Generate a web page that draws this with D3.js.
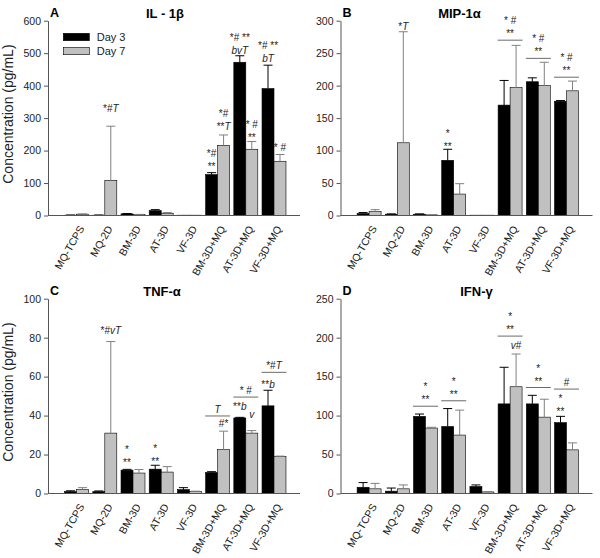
<!DOCTYPE html>
<html>
<head>
<meta charset="utf-8">
<script src="https://cdn.jsdelivr.net/npm/d3@7"></script>
<style>
body { margin: 0; background: #fff; }
svg { font-family: "Liberation Sans", Arial, sans-serif; }
</style>
</head>
<body>
<script>
// categories + series
const groups = ["MQ-TCPS", "MQ-2D", "BM-3D", "AT-3D", "VF-3D", "BM-3D+MQ", "AT-3D+MQ", "VF-3D+MQ"];
const days = ["Day 3", "Day 7"];

// IL-1b (pg/mL), mean and upper error
const il1bDay3 = [1, 1, 5, 15, 1, 126, 472, 391];
const il1bDay3Err = [0.5, 0.5, 1, 3, 0, 6, 20, 72];
const il1bDay7 = [4, 108, 3, 7, 1, 216, 204, 167];
const il1bDay7Err = [1, 167, 0.5, 2, 0, 32, 24, 21];

// MIP-1a
const mipDay3 = [3, 2, 2, 85, 0.5, 170, 206, 176];
const mipDay3Err = [1.5, 0.5, 0.5, 17, 0, 38, 6, 1];
const mipDay7 = [6, 112, 1, 33, 0.5, 197, 200, 192];
const mipDay7Err = [3, 171, 0, 16, 0, 65, 36, 15];

// TNF-a
const tnfDay3 = [1, 1, 12, 12.5, 2, 10.8, 38.8, 45];
const tnfDay3Err = [0.4, 0.3, 0.4, 2, 1, 0.4, 0.3, 8];
const tnfDay7 = [2, 31, 10.5, 11, 1, 22.5, 31, 19];
const tnfDay7Err = [1, 47, 1.8, 2.8, 0.2, 9.5, 1.3, 0.2];

// IFN-g
const ifnDay3 = [8, 3, 99, 86, 9, 115, 115, 91];
const ifnDay3Err = [6, 4, 3, 23, 2, 47, 11, 8];
const ifnDay7 = [6, 6, 84, 75, 2, 137, 98, 56];
const ifnDay7Err = [7, 5, 1, 32, 0.5, 42, 23, 9];

// y tick labels
const il1bTicks = [0, 100, 200, 300, 400, 500, 600];
const mipTicks = [0, 50, 100, 150, 200, 250, 300];
const tnfTicks = [0, 20, 40, 60, 80, 100];
const ifnTicks = [0, 50, 100, 150, 200, 250];

// significance marks: g = group, at = bar (0/1) or "pair" (with line), y in data units
const il1bNotes = [
  {g: 1, at: 1, lines: ["*#T"], y: 318},
  {g: 5, at: 0, lines: ["*#", "**"], y: 140},
  {g: 5, at: 1, lines: ["*#", "**T"], y: 263},
  {g: 6, at: 0, lines: ["*# **", "bvT"], y: 497},
  {g: 6, at: 1, lines: ["* #", "**"], y: 230},
  {g: 7, at: 0, lines: ["*# **", "bT"], y: 473},
  {g: 7, at: 1, lines: ["* #"], y: 199}
];
const mipNotes = [
  {g: 1, at: 1, lines: ["*T"], y: 286},
  {g: 3, at: 0, lines: ["*", "**"], y: 101},
  {g: 5, at: "pair", lines: ["* #", "**"], y: 270},
  {g: 6, at: "pair", lines: ["* #", "**"], y: 242},
  {g: 7, at: "pair", lines: ["* #", "**"], y: 213}
];
const tnfNotes = [
  {g: 1, at: 1, lines: ["*#vT"], y: 82},
  {g: 2, at: 0, lines: ["*", "**"], y: 14},
  {g: 3, at: 0, lines: ["*", "**"], y: 14.5},
  {g: 5, at: "pair", lines: ["T"], y: 39.8},
  {g: 5, at: 1, lines: ["#*"], y: 34},
  {g: 6, at: "pair", lines: ["* #"], y: 49.5},
  {g: 6, at: 0, lines: ["**b"], y: 43},
  {g: 6, at: 1, lines: ["v"], y: 39},
  {g: 7, at: "pair", lines: ["*#T"], y: 62.2},
  {g: 7, at: 0, lines: ["**b"], y: 54}
];
const ifnNotes = [
  {g: 2, at: "pair", lines: ["*", "**"], y: 112},
  {g: 3, at: "pair", lines: ["*", "**"], y: 119},
  {g: 5, at: "pair", lines: ["*", "**"], y: 202},
  {g: 5, at: 1, lines: ["v#"], y: 186},
  {g: 6, at: "pair", lines: ["*", "**"], y: 136},
  {g: 7, at: "pair", lines: ["#"], y: 134},
  {g: 7, at: 0, lines: ["*", "**"], y: 101}
];

const panels = [
  {letter: "A", title: "IL - 1β", x0: 48, y0: 20.7, titleDx: 117, max: 600, ticks: il1bTicks,
   vals: [il1bDay3, il1bDay7], errs: [il1bDay3Err, il1bDay7Err], notes: il1bNotes, ylab: true, legend: true},
  {letter: "B", title: "MIP-1α", x0: 340.5, y0: 20.7, titleDx: 119, max: 300, ticks: mipTicks,
   vals: [mipDay3, mipDay7], errs: [mipDay3Err, mipDay7Err], notes: mipNotes},
  {letter: "C", title: "TNF-α", x0: 48, y0: 298.7, titleDx: 114, max: 100, ticks: tnfTicks,
   vals: [tnfDay3, tnfDay7], errs: [tnfDay3Err, tnfDay7Err], notes: tnfNotes, ylab: true},
  {letter: "D", title: "IFN-γ", x0: 340.5, y0: 298.7, titleDx: 136, max: 250, ticks: ifnTicks,
   vals: [ifnDay3, ifnDay7], errs: [ifnDay3Err, ifnDay7Err], notes: ifnNotes}
];

const width = 600, height = 558;
const plotH = 194.8, plotW = 252, step = 28.2;
const fills = ["#000000", "#c0c0c0"];
const errColor = ["#000000", "#808080"];
const axisColor = "#555";

const svg = d3.select("body").append("svg")
  .attr("width", width).attr("height", height)
  .attr("viewBox", [0, 0, width, height]);

// letters get italic, symbols stay upright
function addMark(sel, str) {
  for (const ch of str) {
    sel.append("tspan")
      .style("font-style", /[A-Za-z]/.test(ch) ? "italic" : "normal")
      .text(ch);
  }
}

panels.forEach(p => {
  const g = svg.append("g");
  const y = d3.scaleLinear().domain([0, p.max]).range([p.y0 + plotH, p.y0]);
  const x = d3.scaleBand().domain(groups)
    .range([p.x0 + 14.5, p.x0 + 14.5 + groups.length * step])
    .paddingInner(0.15).paddingOuter(0.075);
  const xs = d3.scaleBand().domain([0, 1]).range([0, x.bandwidth()]);
  const base = y(0);

  // bars + error bars
  [0, 1].forEach(k => {
    const rows = groups.map((name, i) => ({name, v: p.vals[k][i], e: p.errs[k][i]}));
    g.append("g").selectAll("rect").data(rows).join("rect")
      .attr("x", d => x(d.name) + xs(k))
      .attr("y", d => y(d.v))
      .attr("width", xs.bandwidth())
      .attr("height", d => base - y(d.v))
      .attr("fill", fills[k])
      .attr("stroke", "#000")
      .attr("stroke-width", 0.6);

    const eb = g.append("g").attr("stroke", errColor[k]).attr("stroke-width", 1);
    rows.filter(d => d.e > 0).forEach(d => {
      const cx = x(d.name) + xs(k) + xs.bandwidth() / 2;
      eb.append("line").attr("x1", cx).attr("x2", cx).attr("y1", y(d.v)).attr("y2", y(d.v + d.e));
      eb.append("line").attr("x1", cx - 4.5).attr("x2", cx + 4.5).attr("y1", y(d.v + d.e)).attr("y2", y(d.v + d.e));
    });
  });

  // y axis
  const yAxis = d3.axisLeft(y).tickValues(p.ticks).tickSize(4).tickSizeOuter(0).tickPadding(3);
  const ya = g.append("g").attr("transform", `translate(${p.x0},0)`).call(yAxis);
  ya.select(".domain").attr("stroke", axisColor);
  ya.selectAll(".tick line").attr("stroke", axisColor);
  ya.selectAll("text").style("font-size", "10.5px").attr("fill", "#222");

  // x axis
  const xAxis = d3.axisBottom(x).tickSize(0);
  const xa = g.append("g").attr("transform", `translate(0,${base})`).call(xAxis);
  xa.select(".domain").remove();
  xa.selectAll("text")
    .attr("y", 0).attr("x", 0).attr("dy", "0.35em")
    .attr("transform", "translate(5,11) rotate(-60)")
    .attr("text-anchor", "end")
    .style("font-size", "10.5px").attr("fill", "#222");
  g.append("line")
    .attr("x1", p.x0).attr("x2", p.x0 + plotW)
    .attr("y1", base).attr("y2", base)
    .attr("stroke", axisColor);

  // titles
  g.append("text").attr("x", p.x0 + 2).attr("y", p.y0 - 3.7)
    .style("font-size", "12.5px").style("font-weight", "bold").text(p.letter);
  g.append("text").attr("x", p.x0 + p.titleDx).attr("y", p.y0 - 2.7)
    .attr("text-anchor", "middle")
    .style("font-size", "13px").style("font-weight", "bold").text(p.title);

  if (p.ylab) {
    g.append("text")
      .attr("transform", `translate(${p.x0 - 35},${p.y0 + plotH / 2 - 4}) rotate(-90)`)
      .attr("text-anchor", "middle")
      .style("font-size", "14px").attr("fill", "#222")
      .text("Concentration (pg/mL)");
  }

  // significance marks
  p.notes.forEach(n => {
    const name = groups[n.g];
    let cx, bottom;
    if (n.at === "pair") {
      cx = x(name) + x.bandwidth() / 2;
      const ly = y(n.y);
      g.append("line")
        .attr("x1", x(name) - 0.5).attr("x2", x(name) + x.bandwidth() + 0.5)
        .attr("y1", ly).attr("y2", ly)
        .attr("stroke", "#444").attr("stroke-width", 0.8);
      bottom = ly - 3;
    } else {
      cx = x(name) + xs(n.at) + xs.bandwidth() / 2;
      bottom = y(n.y);
    }
    n.lines.slice().reverse().forEach((line, j) => {
      const t = g.append("text")
        .attr("x", cx).attr("y", bottom - j * 13)
        .attr("text-anchor", "middle")
        .style("font-size", "10px").attr("fill", "#222");
      addMark(t, line);
    });
  });

  // legend
  if (p.legend) {
    days.forEach((d, k) => {
      g.append("rect")
        .attr("x", p.x0 + 15.3).attr("y", p.y0 + 12.6 + k * 14)
        .attr("width", 26).attr("height", 7.4)
        .attr("fill", fills[k]).attr("stroke", "#000").attr("stroke-width", 0.6);
      g.append("text")
        .attr("x", p.x0 + 48.7).attr("y", p.y0 + 20.3 + k * 14)
        .style("font-size", "11px").attr("fill", "#222")
        .text(d);
    });
  }
});
</script>
</body>
</html>
